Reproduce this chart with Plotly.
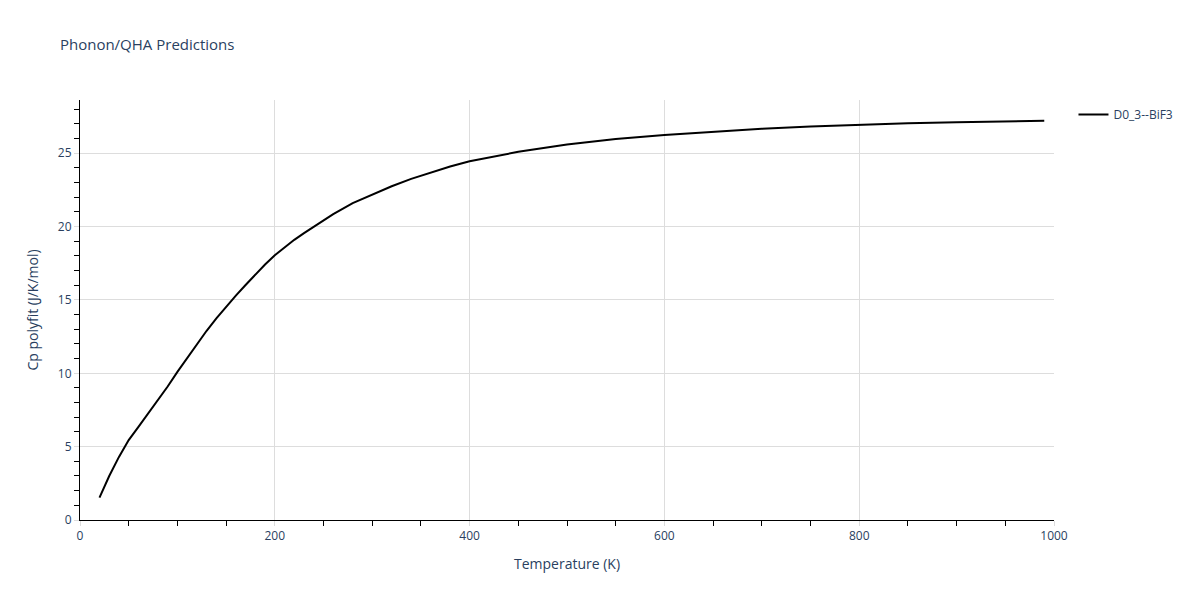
import plotly.graph_objects as go

temperature = [20, 30, 40, 50, 60, 70, 80, 90, 100, 110, 120, 130, 140, 150, 160, 170, 180, 190, 200,
               210, 220, 230, 240, 260, 280, 300, 320, 340, 360, 380, 400, 450, 500, 550, 600, 650, 700,
               750, 800, 850, 900, 950, 990]
cp_polyfit = [1.52, 3.0, 4.3, 5.45, 6.35, 7.25, 8.15, 9.1, 10.1, 11.05, 12.0, 12.9, 13.75, 14.55, 15.3,
              16.02, 16.75, 17.42, 18.05, 18.6, 19.1, 19.55, 20.0, 20.85, 21.6, 22.2, 22.75, 23.25, 23.7,
              24.1, 24.45, 25.1, 25.6, 25.97, 26.25, 26.48, 26.67, 26.83, 26.96, 27.05, 27.12, 27.17, 27.21]
series_name = "D0_3--BiF3"

fig = go.Figure()
fig.add_trace(go.Scatter(x=temperature, y=cp_polyfit, mode="lines", name=series_name,
                         line=dict(color="black", width=2)))

axis_common = dict(
    showline=True, linecolor="black", linewidth=1,
    showgrid=True, gridcolor="#dddddd", gridwidth=1,
    ticks="outside", tickcolor="#dddddd", ticklen=5,
    zeroline=False,
    tickfont=dict(color="#2a3f5f", size=12),
)

fig.update_layout(
    template="plotly_white",
    width=1200, height=600,
    title=dict(text="Phonon/QHA Predictions", font=dict(size=15, color="#2a3f5f"),
               x=0.0433, xanchor="left", y=0.938, yanchor="middle"),
    margin=dict(l=72, r=154, t=92, b=88),
    showlegend=True,
    xaxis=dict(title=dict(text="Temperature (K)"), range=[0, 1000], dtick=200,
               minor=dict(ticks="outside", dtick=50, ticklen=5, tickcolor="black", showgrid=False),
               **axis_common),
    yaxis=dict(title=dict(text="Cp polyfit (J/K/mol)"), range=[0, 28.63], dtick=5,
               minor=dict(ticks="outside", dtick=1, ticklen=5, tickcolor="black", showgrid=False),
               **axis_common),
)

fig.write_html("out.html")
